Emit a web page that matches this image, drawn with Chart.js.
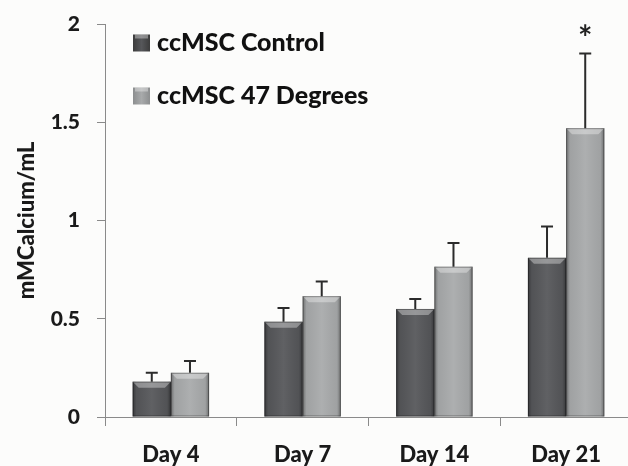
<!DOCTYPE html>
<html>
<head>
<meta charset="utf-8">
<script src="https://cdn.jsdelivr.net/npm/chart.js@4.4.1/dist/chart.umd.min.js"></script>
<style>
    html, body { margin: 0; padding: 0; background: #fcfcfb; overflow: hidden; }
    #chart { display: block; }
</style>
</head>
<body>
<canvas id="chart" width="632" height="466"></canvas>
<script>
// data
const days = ['Day 4', 'Day 7', 'Day 14', 'Day 21'];
const controlValues = [0.18, 0.485, 0.55, 0.81];
const controlErrors = [0.045, 0.07, 0.05, 0.16];
const degreesValues = [0.225, 0.615, 0.765, 1.47];
const degreesErrors = [0.06, 0.075, 0.12, 0.38];
const yTicks = [0, 0.5, 1, 1.5, 2];
const starIndex = 3; // Day 21, 47 degrees

const FONT = 'Lato, "Open Sans", sans-serif';

// 3D look on every bar (bevel at the top, darker sides)
const bevelPlugin = {
    id: 'bevel',
    afterDatasetsDraw(chart) {
        const ctx = chart.ctx;
        chart.data.datasets.forEach((ds, i) => {
            chart.getDatasetMeta(i).data.forEach(bar => {
                const left = bar.x - bar.width / 2;
                const right = bar.x + bar.width / 2;
                const top = bar.y;
                const bottom = bar.base;
                ctx.save();
                const g = ctx.createLinearGradient(left, 0, right, 0);
                g.addColorStop(0, 'rgba(0,0,0,0.35)');
                g.addColorStop(0.1, 'rgba(0,0,0,0.05)');
                g.addColorStop(0.5, 'rgba(255,255,255,0.06)');
                g.addColorStop(0.9, 'rgba(0,0,0,0.05)');
                g.addColorStop(1, 'rgba(0,0,0,0.35)');
                ctx.fillStyle = g;
                ctx.fillRect(left, top, right - left, bottom - top);
                const b = 6;
                ctx.beginPath();
                ctx.moveTo(left, top);
                ctx.lineTo(right, top);
                ctx.lineTo(right - b, top + b);
                ctx.lineTo(left + b, top + b);
                ctx.closePath();
                ctx.fillStyle = 'rgba(255,255,255,0.35)';
                ctx.fill();
                ctx.strokeStyle = 'rgba(0,0,0,0.35)';
                ctx.lineWidth = 1;
                ctx.strokeRect(left + 0.5, top + 0.5, right - left - 1, bottom - top - 1);
                ctx.restore();
            });
        });
    }
};

// upper error bars + asterisk
const errorBarPlugin = {
    id: 'errorBars',
    afterDatasetsDraw(chart) {
        const ctx = chart.ctx;
        const yScale = chart.scales.y;
        const errs = [controlErrors, degreesErrors];
        ctx.save();
        ctx.strokeStyle = '#2b2b2b';
        ctx.lineWidth = 2;
        chart.data.datasets.forEach((ds, i) => {
            chart.getDatasetMeta(i).data.forEach((bar, j) => {
                const yTop = yScale.getPixelForValue(ds.data[j] + errs[i][j]);
                ctx.beginPath();
                ctx.moveTo(bar.x, bar.y);
                ctx.lineTo(bar.x, yTop);
                ctx.moveTo(bar.x - 6, yTop);
                ctx.lineTo(bar.x + 6, yTop);
                ctx.stroke();
                if (i === 1 && j === starIndex) {
                    ctx.fillStyle = '#222';
                    ctx.font = 'bold 34px ' + FONT;
                    ctx.textAlign = 'center';
                    ctx.textBaseline = 'middle';
                    ctx.fillText('*', bar.x, yTop - 14);
                }
            });
        });
        ctx.restore();
    }
};

// vertical legend in the upper left of the plot
const legendPlugin = {
    id: 'innerLegend',
    afterDraw(chart) {
        const ctx = chart.ctx;
        const area = chart.chartArea;
        const colors = ['#56575a', '#a8aaab'];
        ctx.save();
        chart.data.datasets.forEach((ds, i) => {
            const x = area.left + 28;
            const y = area.top + 19 + i * 53;
            const s = 17;
            const g = ctx.createLinearGradient(x, 0, x + s, 0);
            g.addColorStop(0, i === 0 ? '#3c3c3c' : '#8c8e8f');
            g.addColorStop(0.5, colors[i]);
            g.addColorStop(1, i === 0 ? '#3c3c3c' : '#8c8e8f');
            ctx.fillStyle = g;
            ctx.fillRect(x, y - s / 2, s, s);
            ctx.fillStyle = 'rgba(255,255,255,0.35)';
            ctx.fillRect(x + 2, y - s / 2, s - 4, 4);
            ctx.fillStyle = '#111';
            ctx.font = '900 25px ' + FONT;
            ctx.textAlign = 'left';
            ctx.textBaseline = 'middle';
            ctx.fillText(ds.label, x + s + 7, y);
        });
        ctx.restore();
    }
};

const ctx = document.getElementById('chart').getContext('2d');
const chart = new Chart(ctx, {
    type: 'bar',
    data: {
        labels: days,
        datasets: [
            {
                label: 'ccMSC Control',
                data: controlValues,
                backgroundColor: '#56575a',
                categoryPercentage: 0.58,
                barPercentage: 1.0
            },
            {
                label: 'ccMSC 47 Degrees',
                data: degreesValues,
                backgroundColor: '#a8aaab',
                categoryPercentage: 0.58,
                barPercentage: 1.0
            }
        ]
    },
    options: {
        responsive: false,
        animation: false,
        layout: { padding: { left: 12, right: 0, top: 24, bottom: 0 } },
        plugins: {
            legend: { display: false },
            tooltip: { enabled: false }
        },
        scales: {
            x: {
                afterFit(scale) { scale.height = 49; },
                grid: {
                    offset: true,
                    drawOnChartArea: false,
                    tickLength: 9,
                    color: '#8a8a8a'
                },
                border: { color: '#8a8a8a', width: 1 },
                ticks: {
                    color: '#1a1a1a',
                    padding: 16,
                    font: { family: FONT, size: 22, weight: '900' }
                }
            },
            y: {
                min: 0,
                max: 2,
                afterFit(scale) {
                    scale.width = 93;
                    scale.paddingTop = 0;
                    scale.paddingBottom = 0;
                },
                afterBuildTicks(scale) {
                    scale.ticks = yTicks.map(v => ({ value: v }));
                },
                grid: {
                    drawOnChartArea: false,
                    tickLength: 8,
                    color: '#8a8a8a'
                },
                border: { color: '#8a8a8a', width: 1 },
                ticks: {
                    color: '#1a1a1a',
                    padding: 17,
                    callback: v => String(v),
                    font: { family: FONT, size: 21, weight: '900' }
                },
                title: {
                    display: true,
                    text: 'mMCalcium/mL',
                    color: '#1a1a1a',
                    padding: { top: 2, bottom: 0 },
                    font: { family: FONT, size: 22, weight: '900' }
                }
            }
        }
    },
    plugins: [bevelPlugin, errorBarPlugin, legendPlugin]
});
</script>
</body>
</html>
